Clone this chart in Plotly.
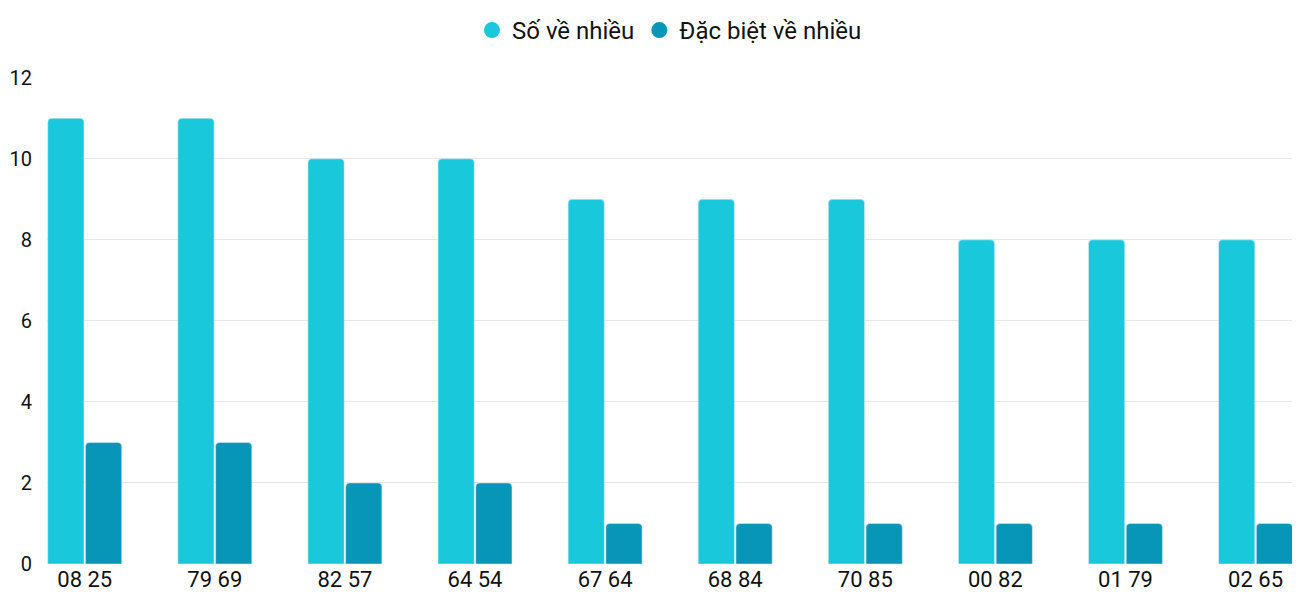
import plotly.graph_objects as go

categories = ["08 25", "79 69", "82 57", "64 54", "67 64", "68 84", "70 85", "00 82", "01 79", "02 65"]
so_ve_nhieu = [11, 11, 10, 10, 9, 9, 9, 8, 8, 8]
dac_biet = [3, 3, 2, 2, 1, 1, 1, 1, 1, 1]
names = ["Số về nhiều", "Đặc biệt về nhiều"]
colors = ["#1ac8db", "#0795b8"]

x = list(range(len(categories)))
fig = go.Figure()
for vals, name, c in zip([so_ve_nhieu, dac_biet], names, colors):
    fig.add_trace(go.Bar(x=x, y=vals, name=name, marker_color=c, showlegend=False))
for name, c in zip(names, colors):
    fig.add_trace(go.Scatter(x=[None], y=[None], mode="markers", name=name,
                             marker=dict(color=c, size=26, symbol="circle")))

fig.update_layout(
    width=1284, height=584,
    margin=dict(l=39, r=0, t=69, b=26),
    plot_bgcolor="white", paper_bgcolor="white",
    font=dict(family="Roboto", size=20, color="#111"),
    barmode="group", bargap=0.42, bargroupgap=0.04, barcornerradius=4,
    legend=dict(orientation="h", x=0.5, xanchor="center", y=1.0, yanchor="top",
                font=dict(size=24), yref="container"),
    xaxis=dict(tickmode="array", tickvals=x, ticktext=categories, range=[-0.29, 9.28],
               showgrid=False, zeroline=False, ticks="", tickfont=dict(size=22)),
    yaxis=dict(range=[0, 12.02], dtick=2, gridcolor="#e6e6e6", zeroline=False,
               tickfont=dict(size=20), ticks="", ticklabelstandoff=14),
)
fig.write_html("out.html")
